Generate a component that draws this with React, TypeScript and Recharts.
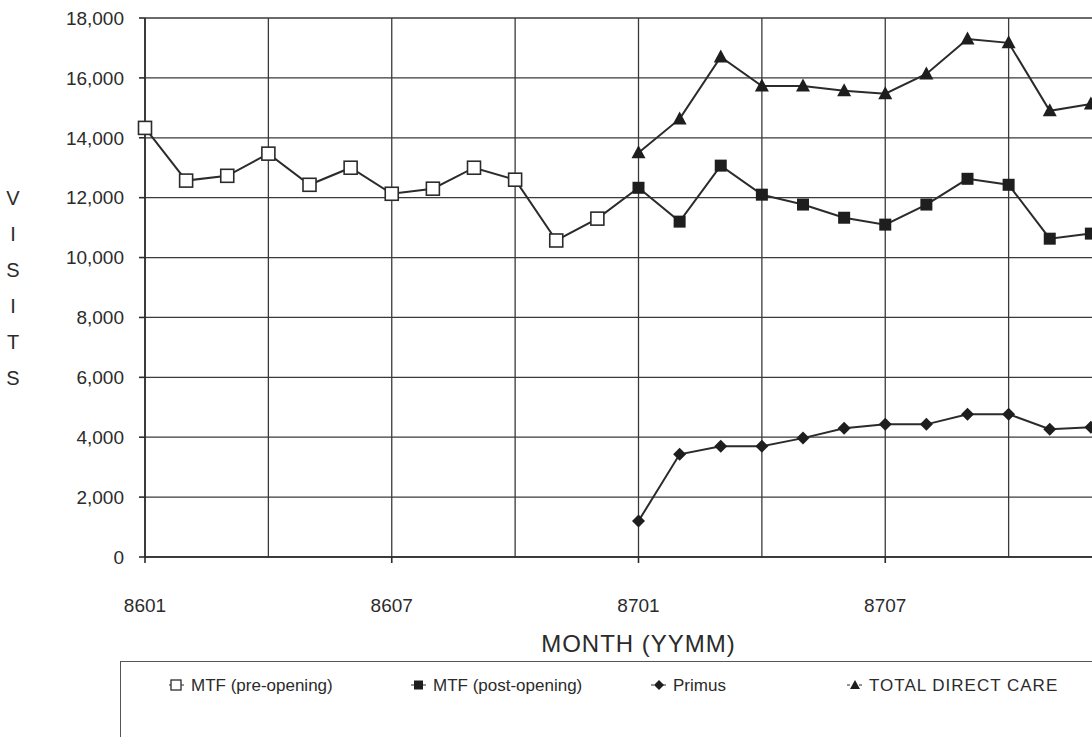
import React from "react";
import { LineChart, Line, XAxis, YAxis, CartesianGrid, Legend, Label } from "recharts";

// month labels, index 0 = 8601
const months = [
  "8601", "8602", "8603", "8604", "8605", "8606", "8607", "8608", "8609", "8610", "8611", "8612",
  "8701", "8702", "8703", "8704", "8705", "8706", "8707", "8708", "8709", "8710", "8711", "8712",
  "8801",
];
const labelTicks = [0, 6, 12, 18];
const gridMonths = [0, 3, 6, 9, 12, 15, 18, 21, 24];
const yTicks = [0, 2000, 4000, 6000, 8000, 10000, 12000, 14000, 16000, 18000];

// visits
const preOpening = [14330, 12570, 12730, 13470, 12430, 13000, 12130, 12300, 13000, 12600, 10570, 11300];
const postOpening = [12330, 11200, 13070, 12100, 11770, 11330, 11100, 11770, 12630, 12430, 10630, 10800];
const primus = [1200, 3430, 3700, 3700, 3970, 4300, 4430, 4430, 4770, 4770, 4270, 4330];
const totalDirectCare = [13500, 14630, 16700, 15730, 15730, 15570, 15470, 16130, 17300, 17170, 14900, 15130];

const postStart = preOpening.length;

const data = months.slice(0, 24).map((m, i) => {
  const j = i - postStart;
  return {
    idx: i,
    month: m,
    // pre-opening line runs on into the first post-opening month
    pre: i < postStart ? preOpening[i] : j === 0 ? postOpening[0] : null,
    post: j >= 0 ? postOpening[j] : null,
    primus: j >= 0 ? primus[j] : null,
    total: j >= 0 ? totalDirectCare[j] : null,
  };
});

const INK = "#2b2b2b";
const FONT = "'Liberation Sans', Arial, sans-serif";

const OpenSquare = (p: any) => {
  if (p.cx == null || p.cy == null || p.index >= postStart) return <g key={p.key} />;
  return <rect key={p.key} x={p.cx - 6.5} y={p.cy - 6.5} width={13} height={13} fill="#fff" stroke={INK} strokeWidth={1.6} />;
};
const FilledSquare = (p: any) => {
  if (p.cx == null || p.cy == null) return <g key={p.key} />;
  return <rect key={p.key} x={p.cx - 6} y={p.cy - 6} width={12} height={12} fill="#1e1e1e" />;
};
const Diamond = (p: any) => {
  if (p.cx == null || p.cy == null) return <g key={p.key} />;
  const r = 6.5;
  return <polygon key={p.key} points={`${p.cx},${p.cy - r} ${p.cx + r},${p.cy} ${p.cx},${p.cy + r} ${p.cx - r},${p.cy}`} fill="#1e1e1e" />;
};
const Triangle = (p: any) => {
  if (p.cx == null || p.cy == null) return <g key={p.key} />;
  return <polygon key={p.key} points={`${p.cx},${p.cy - 7.5} ${p.cx + 7},${p.cy + 5.5} ${p.cx - 7},${p.cy + 5.5}`} fill="#1e1e1e" />;
};

const legendItems = [
  { key: "pre", label: "MTF (pre-opening)", width: 242 },
  { key: "post", label: "MTF (post-opening)", width: 240 },
  { key: "primus", label: "Primus", width: 196 },
  { key: "total", label: "TOTAL DIRECT CARE", width: 260 },
];

const LegendIcon = ({ k }: { k: string }) => (
  <svg width={20} height={14} style={{ marginRight: 4, verticalAlign: "-1px" }}>
    <line x1={2} y1={7} x2={18} y2={7} stroke={INK} strokeWidth={1.2} strokeDasharray="3 3" />
    {k === "pre" && <rect x={4} y={2} width={10} height={10} fill="#fff" stroke={INK} strokeWidth={1.3} />}
    {k === "post" && <rect x={5} y={2.5} width={9} height={9} fill="#1e1e1e" />}
    {k === "primus" && <polygon points="10,2 15,7 10,12 5,7" fill="#1e1e1e" />}
    {k === "total" && <polygon points="10,2 15,11 5,11" fill="#1e1e1e" />}
  </svg>
);

const LegendBox = () => (
  <div
    style={{
      width: 1100,
      height: 100,
      border: "1.5px solid #555",
      boxSizing: "border-box",
      paddingLeft: 46,
      paddingTop: 14,
      fontFamily: FONT,
      fontSize: 17,
      color: INK,
      whiteSpace: "nowrap",
    }}
  >
    {legendItems.map((it) => (
      <span
        key={it.key}
        style={{
          display: "inline-block",
          width: it.width,
          letterSpacing: it.key === "total" ? 1 : 0,
        }}
      >
        <LegendIcon k={it.key} />
        {it.label}
      </span>
    ))}
  </div>
);

const VisitsLabel = (props: any) => {
  const vb = props.viewBox || {};
  const cy = (vb.y ?? 18) + (vb.height ?? 539) / 2;
  const letters = "VISITS".split("");
  return (
    <g>
      {letters.map((ch, i) => (
        <text
          key={i}
          x={13}
          y={cy + (i - (letters.length - 1) / 2) * 36}
          textAnchor="middle"
          dominantBaseline="central"
          fontFamily={FONT}
          fontSize={20}
          fill={INK}
        >
          {ch}
        </text>
      ))}
    </g>
  );
};

export default function App() {
  return (
    <div
      style={{
        position: "absolute",
        left: 0,
        top: 0,
        width: 1092,
        height: 737,
        overflow: "hidden",
        background: "#fff",
      }}
    >
      <LineChart
        width={1160}
        height={790}
        data={data}
        margin={{ top: 18, right: 28, left: 0, bottom: 0 }}
      >
        <CartesianGrid
          stroke="#3a3a3a"
          strokeWidth={1.3}
          verticalValues={gridMonths}
          horizontalValues={yTicks}
        />
        <XAxis
          dataKey="idx"
          type="number"
          domain={[0, 24]}
          ticks={labelTicks}
          tickFormatter={(v) => months[v]}
          interval={0}
          height={233}
          tickSize={6}
          tickMargin={36}
          axisLine={{ stroke: INK, strokeWidth: 1.6 }}
          tickLine={{ stroke: INK, strokeWidth: 1.6 }}
          tick={{ fontSize: 19, fill: INK, fontFamily: FONT }}
        >
          <Label
            value="MONTH (YYMM)"
            position="insideTop"
            offset={78}
            style={{ fontSize: 24, fill: INK, fontFamily: FONT, letterSpacing: 1 }}
          />
        </XAxis>
        <YAxis
          domain={[0, 18000]}
          ticks={yTicks}
          interval={0}
          width={145}
          tickSize={6}
          tickMargin={15}
          tickFormatter={(v) => v.toLocaleString("en-US")}
          axisLine={{ stroke: INK, strokeWidth: 1.6 }}
          tickLine={{ stroke: INK, strokeWidth: 1.6 }}
          tick={{ fontSize: 19, fill: INK, fontFamily: FONT }}
        >
          <Label content={<VisitsLabel />} />
        </YAxis>
        <Legend
          layout="horizontal"
          verticalAlign="middle"
          align="center"
          wrapperStyle={{ top: 661, left: 120 }}
          content={() => <LegendBox />}
        />
        <Line
          dataKey="pre"
          name="MTF (pre-opening)"
          stroke={INK}
          strokeWidth={2}
          dot={OpenSquare}
          activeDot={false}
          connectNulls={false}
          isAnimationActive={false}
        />
        <Line
          dataKey="post"
          name="MTF (post-opening)"
          stroke={INK}
          strokeWidth={2}
          dot={FilledSquare}
          activeDot={false}
          isAnimationActive={false}
        />
        <Line
          dataKey="primus"
          name="Primus"
          stroke={INK}
          strokeWidth={2}
          dot={Diamond}
          activeDot={false}
          isAnimationActive={false}
        />
        <Line
          dataKey="total"
          name="TOTAL DIRECT CARE"
          stroke={INK}
          strokeWidth={2}
          dot={Triangle}
          activeDot={false}
          isAnimationActive={false}
        />
      </LineChart>
    </div>
  );
}
